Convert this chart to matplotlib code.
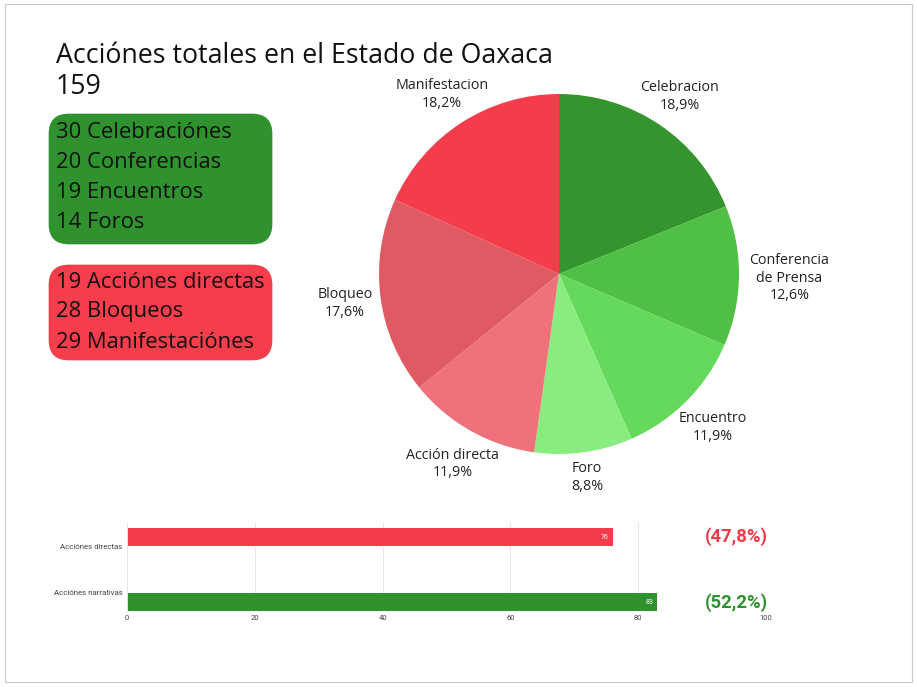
import matplotlib
matplotlib.use("Agg")
import matplotlib.pyplot as plt
from matplotlib.patches import FancyBboxPatch, Rectangle
import numpy as np

# pie data (clockwise from the top)
pie_labels = ["Celebracion", "Conferencia\nde Prensa", "Encuentro", "Foro",
              "Acción directa", "Bloqueo", "Manifestacion"]
pie_values = [30, 20, 19, 14, 19, 28, 29]
pie_colors = ["#34942e", "#4fbf45", "#65d95b", "#88ec7e",
              "#ee727c", "#e05a64", "#f43c4a"]

# boxes on the left
green_lines = ["30 Celebraciónes", "20 Conferencias", "19 Encuentros", "14 Foros"]
red_lines = ["19 Acciónes directas", "28 Bloqueos", "29 Manifestaciónes"]

# bar chart
bar_cats = ["Acciónes directas", "Acciónes narrativas"]
bar_values = [76, 83]
bar_colors = ["#f43c4a", "#2f922f"]
bar_ticks = [0, 20, 40, 60, 80, 100]

W, H = 917, 687
fig = plt.figure(figsize=(W / 100, H / 100), dpi=100)
fig.patch.set_facecolor("white")
FONT = "Open Sans"


def fx(px):
    return px / W


def fy(py):
    return 1 - py / H


# frame
fig.patches.append(Rectangle((fx(5), fy(682)), fx(907), (682 - 4) / H,
                             transform=fig.transFigure, fill=False,
                             edgecolor="#c8c8c8", lw=0.8))

# title
fig.text(fx(56), fy(56), "Acciónes totales en el Estado de Oaxaca", fontsize=19.3,
         family=FONT, va="center", ha="left", color="#111111")
fig.text(fx(56), fy(87), str(sum(pie_values)), fontsize=19.3,
         family=FONT, va="center", ha="left", color="#111111")


# rounded boxes
def box(x0, y0, x1, y1, color, lines, first_y):
    p = FancyBboxPatch((fx(x0 + 20), fy(y1 - 20)), fx(x1 - x0 - 40), (y1 - y0 - 40) / H,
                       boxstyle="round,pad=0.02,rounding_size=0.022",
                       transform=fig.transFigure, facecolor=color, edgecolor="none",
                       mutation_aspect=W / H)
    fig.patches.append(p)
    for i, t in enumerate(lines):
        fig.text(fx(56), fy(first_y + i * 30), t, fontsize=15.8, family=FONT,
                 va="center", ha="left", color="#111111")


box(47, 112, 274, 246, "#2f922f", green_lines, 132)
box(47, 263, 274, 362, "#f53d4b", red_lines, 282)

# pie
cx, cy, r = 559, 274, 180
ax = fig.add_axes([fx(cx - r), fy(cy + r), 2 * r / W, 2 * r / H])
wedges, _ = ax.pie(pie_values, colors=pie_colors, startangle=90, counterclock=False,
                   wedgeprops=dict(linewidth=0))
total = sum(pie_values)
for w, lab, v in zip(wedges, pie_labels, pie_values):
    ang = np.deg2rad((w.theta1 + w.theta2) / 2)
    d = 1.2
    if lab.startswith("Conferencia"):
        d = 1.28
    if lab == "Foro":
        d = 1.13
    pct = f"{100 * v / total:.1f}%".replace(".", ",")
    ax.text(d * np.cos(ang), d * np.sin(ang) - 0.01, lab + "\n" + pct, ha="center",
            va="center", fontsize=10.3, family=FONT, color="#222222", linespacing=1.25)
ax.set_xlim(-1, 1)
ax.set_ylim(-1, 1)
ax.axis("off")

# bar chart
bx = fig.add_axes([fx(127), fy(611), fx(766 - 127), (611 - 522) / H])
ypos = np.arange(len(bar_cats))
bx.barh(ypos, bar_values, height=0.28, color=bar_colors)
for y, v in zip(ypos, bar_values):
    bx.text(v - 0.6, y, str(v), ha="right", va="center", color="white", fontsize=5,
            family="Roboto")
bx.set_xlim(0, 100)
bx.set_ylim(1.13, -0.23)
bx.set_xticks(bar_ticks)
bx.set_xticklabels([str(t) for t in bar_ticks], fontsize=5.5, family="Roboto", color="#444444")
bx.set_yticks([0.15, 0.85])
bx.set_yticklabels(bar_cats, fontsize=5.7, family="Roboto", color="#444444")
bx.tick_params(length=0, pad=3)
bx.xaxis.grid(True, color="#e6e6e6", lw=0.7)
bx.set_axisbelow(True)
for s in ["top", "right", "bottom"]:
    bx.spines[s].set_visible(False)
bx.spines["left"].set_color("#e6e6e6")
bx.spines["left"].set_linewidth(0.7)

for y, v, c in zip(ypos, bar_values, bar_colors):
    pct = f"({100 * v / sum(bar_values):.1f}%)".replace(".", ",")
    fig.text(fx(736), bx.transData.transform((0, y))[1] / H, pct, ha="center", va="center",
             fontsize=13.3, fontweight="bold", family="Roboto",
             color="#f03a48" if c == bar_colors[0] else "#2f922f")

fig.savefig("out.png", dpi=100)
